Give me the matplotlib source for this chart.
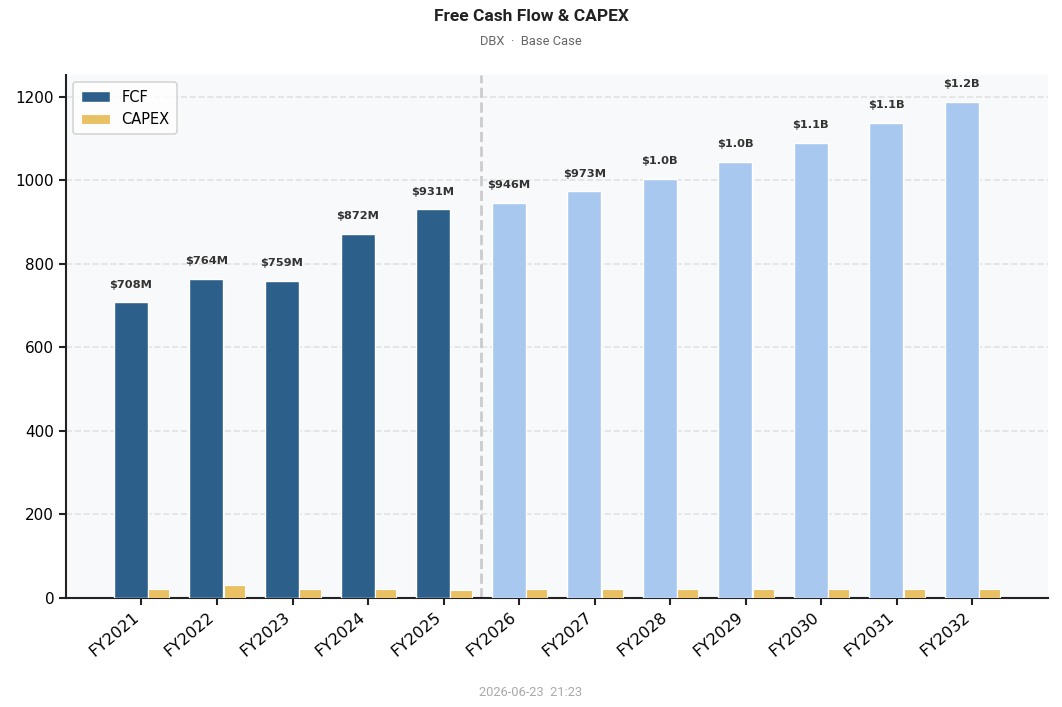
import matplotlib
matplotlib.use("Agg")
import matplotlib.pyplot as plt
import numpy as np

# Data (USD millions)
years = ["FY2021", "FY2022", "FY2023", "FY2024", "FY2025", "FY2026",
         "FY2027", "FY2028", "FY2029", "FY2030", "FY2031", "FY2032"]
fcf = [708, 764, 759, 872, 931, 946, 973, 1004, 1044, 1090, 1138, 1188]
capex = [21.5, 31, 21.5, 21.5, 19, 21.5, 21.5, 21.5, 21.5, 21.5, 21.5, 21.5]
n_hist = 5  # first 5 years are actuals, rest projected

def fmt_money(v):
    if v >= 1000:
        return f"${v / 1000:.1f}B"
    return f"${v:.0f}M"

def plot_fcf(years, fcf, capex):
    fig = plt.figure(figsize=(10.62, 7.07), dpi=100)
    ax = fig.add_axes([0.0621, 0.1542, 0.9247, 0.7398])
    ax.set_facecolor("#f8f9fb")

    x = np.arange(len(years))
    colors = ["#2c5f8a" if i < n_hist else "#a8c8f0" for i in range(len(years))]

    ax.bar(x - 0.14, fcf, width=0.45, color=colors, edgecolor="white", linewidth=1, label="FCF", zorder=3)
    ax.bar(x + 0.23, capex, width=0.28, color="#e9c064", edgecolor="white", linewidth=0.8, label="CAPEX", zorder=3)

    # value labels above FCF bars
    for xi, v in zip(x, fcf):
        ax.text(xi - 0.14, v + 30, fmt_money(v), ha="center", va="bottom",
                fontsize=8.2, fontweight="bold", color="#333333", family="DejaVu Sans")

    # divider between actuals and projections
    ax.axvline(n_hist - 0.5, color="#cccccc", linestyle="--", linewidth=2, zorder=2)

    ax.set_xlim(-1, 12)
    ax.set_ylim(0, 1252)
    ax.set_xticks(x)
    ax.set_xticklabels(years, rotation=40, ha="right", fontsize=11.5, family="DejaVu Sans")
    ax.set_yticks([0, 200, 400, 600, 800, 1000, 1200])
    ax.tick_params(axis="y", labelsize=11)
    ax.tick_params(axis="both", width=1.5, length=5, color="#222222")

    ax.grid(axis="y", linestyle="--", color="#e2e2e2", linewidth=1.2, zorder=0)
    ax.set_axisbelow(True)
    for side in ["top", "right"]:
        ax.spines[side].set_visible(False)
    for side in ["left", "bottom"]:
        ax.spines[side].set_linewidth(1.5)
        ax.spines[side].set_color("#222222")

    leg = ax.legend(loc="upper left", fontsize=10.5, frameon=True, fancybox=True,
                    handlelength=2.0, borderpad=0.5)
    leg.get_frame().set_edgecolor("#cccccc")
    leg.get_frame().set_linewidth(1.2)

    fig.text(0.5, 0.976, "Free Cash Flow & CAPEX", ha="center", va="center",
             fontsize=12.5, fontweight="bold", color="#222222", family="Roboto")
    fig.text(0.5, 0.942, "DBX  \u00b7  Base Case", ha="center", va="center",
             fontsize=9.3, color="#666666", family="Roboto")
    fig.text(0.5, 0.020, "2026-06-23  21:23", ha="center", va="center",
             fontsize=9.3, color="#aaaaaa", family="Roboto")

    fig.savefig("out.png", dpi=100)

plot_fcf(years, fcf, capex)
